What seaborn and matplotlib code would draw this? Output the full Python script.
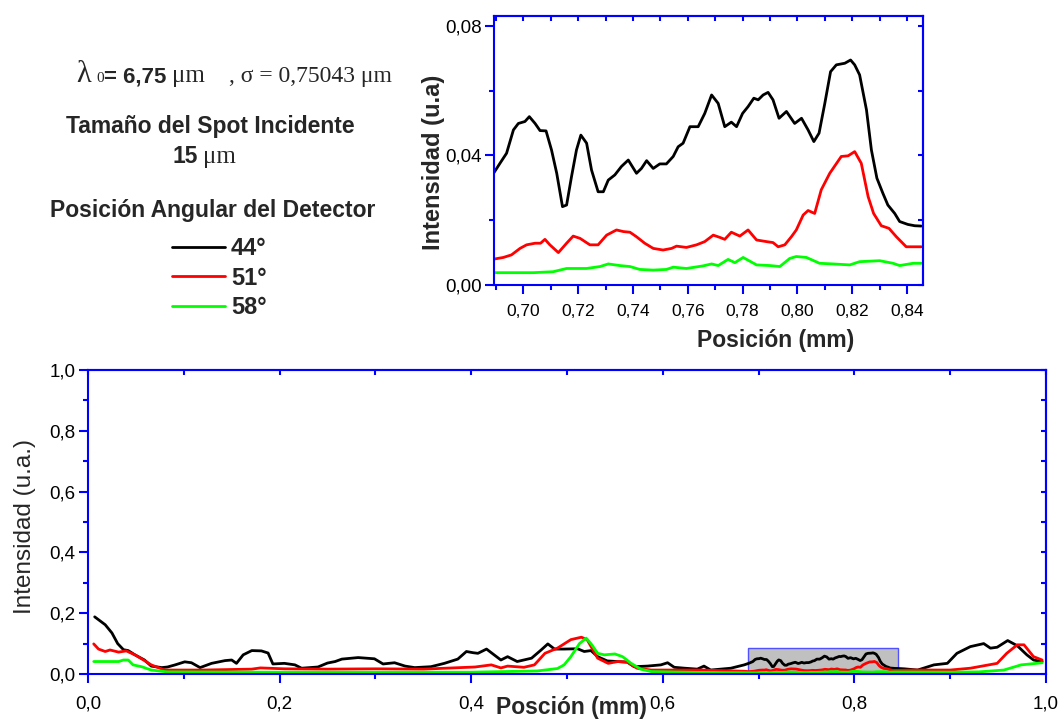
import pandas as pd
import seaborn as sns
import matplotlib.pyplot as plt
from matplotlib.patches import Rectangle
from matplotlib.lines import Line2D
from matplotlib.ticker import MultipleLocator, FuncFormatter

# --- data ----------------------------------------------------------------
angles = ['44°', '51°', '58°']
colors = ['#000000', '#FF0000', '#00FF00']

# 44 deg: full scan, part before the zoomed window
pos44_a = [0.007, 0.018, 0.025, 0.031, 0.037, 0.042, 0.049, 0.059, 0.066, 0.077, 0.083, 0.091,
           0.101, 0.108, 0.117, 0.129, 0.143, 0.150, 0.155, 0.162, 0.171, 0.181, 0.188, 0.193,
           0.205, 0.216, 0.223, 0.240, 0.250, 0.258, 0.265, 0.282, 0.299, 0.308, 0.320, 0.331,
           0.341, 0.358, 0.372, 0.386, 0.395, 0.402, 0.407, 0.416, 0.424, 0.431, 0.438, 0.448,
           0.463, 0.473, 0.480, 0.487, 0.497, 0.511, 0.518, 0.525, 0.532, 0.542, 0.553, 0.563,
           0.570, 0.584, 0.598, 0.605, 0.612, 0.623, 0.636, 0.643, 0.650, 0.671, 0.685]
int44_a = [0.188, 0.162, 0.135, 0.100, 0.080, 0.077, 0.063, 0.046, 0.026, 0.021, 0.023, 0.030,
           0.040, 0.037, 0.021, 0.035, 0.044, 0.046, 0.035, 0.063, 0.077, 0.076, 0.069, 0.033,
           0.035, 0.030, 0.019, 0.023, 0.036, 0.041, 0.049, 0.054, 0.050, 0.033, 0.037, 0.026,
           0.021, 0.024, 0.035, 0.049, 0.074, 0.070, 0.068, 0.082, 0.063, 0.046, 0.057, 0.041,
           0.052, 0.079, 0.099, 0.082, 0.082, 0.083, 0.074, 0.077, 0.057, 0.043, 0.041, 0.039,
           0.024, 0.026, 0.030, 0.037, 0.022, 0.019, 0.016, 0.026, 0.013, 0.019, 0.030]
# 44 deg: zoomed window (0.69 - 0.845 mm)
pos44_z = [0.6893, 0.6915, 0.6939, 0.6964, 0.6982, 0.7006, 0.7022, 0.7043, 0.7061, 0.7083,
           0.7103, 0.7122, 0.7143, 0.7158, 0.7176, 0.7194, 0.7210, 0.7231, 0.7249, 0.7273,
           0.7292, 0.7310, 0.7334, 0.7358, 0.7383, 0.7413, 0.7431, 0.7450, 0.7474, 0.7498,
           0.7522, 0.7547, 0.7565, 0.7583, 0.7608, 0.7638, 0.7662, 0.7687, 0.7711, 0.7735,
           0.7759, 0.7778, 0.7800, 0.7820, 0.7841, 0.7857, 0.7875, 0.7893, 0.7911, 0.7933,
           0.7960, 0.7990, 0.8015, 0.8039, 0.8060, 0.8079, 0.8100, 0.8121, 0.8142, 0.8173,
           0.8194, 0.8209, 0.8227, 0.8252, 0.8270, 0.8290, 0.8312, 0.8330, 0.8355, 0.8373,
           0.8403, 0.8428, 0.8452]
int44_z = [0.0347, 0.0376, 0.0407, 0.0479, 0.0499, 0.0505, 0.0520, 0.0499, 0.0477, 0.0476,
           0.0417, 0.0345, 0.0242, 0.0247, 0.0335, 0.0417, 0.0463, 0.0438, 0.0355, 0.0288,
           0.0288, 0.0324, 0.0340, 0.0366, 0.0386, 0.0345, 0.0360, 0.0384, 0.0360, 0.0374,
           0.0374, 0.0397, 0.0427, 0.0438, 0.0489, 0.0489, 0.0530, 0.0587, 0.0561, 0.0489,
           0.0503, 0.0489, 0.0530, 0.0551, 0.0577, 0.0572, 0.0587, 0.0595, 0.0572, 0.0515,
           0.0536, 0.0499, 0.0515, 0.0479, 0.0443, 0.0469, 0.0561, 0.0659, 0.0680, 0.0685,
           0.0695, 0.0680, 0.0649, 0.0541, 0.0417, 0.0330, 0.0283, 0.0247, 0.0221, 0.0196,
           0.0187, 0.0183, 0.0182]
# 44 deg: after the window
pos44_b = [0.852, 0.866, 0.883, 0.897, 0.907, 0.921, 0.935, 0.942, 0.949, 0.960, 0.970, 0.980,
           0.987, 0.996]
int44_b = [0.017, 0.013, 0.030, 0.035, 0.068, 0.090, 0.100, 0.085, 0.088, 0.110, 0.093, 0.063,
           0.046, 0.041]

pos51_a = [0.006, 0.011, 0.018, 0.023, 0.032, 0.040, 0.049, 0.058, 0.066, 0.080, 0.120, 0.171,
           0.180, 0.205, 0.250, 0.300, 0.350, 0.404, 0.421, 0.431, 0.438, 0.455, 0.466, 0.477,
           0.490, 0.504, 0.515, 0.521, 0.532, 0.543, 0.553, 0.563, 0.573, 0.588, 0.640, 0.685]
int51_a = [0.099, 0.082, 0.074, 0.079, 0.072, 0.076, 0.063, 0.046, 0.030, 0.013, 0.013, 0.016,
           0.020, 0.017, 0.016, 0.017, 0.016, 0.023, 0.030, 0.020, 0.026, 0.022, 0.030, 0.068,
           0.085, 0.113, 0.121, 0.113, 0.052, 0.035, 0.041, 0.039, 0.019, 0.013, 0.013, 0.009]
pos51_z = [0.6893, 0.6927, 0.6957, 0.6988, 0.7012, 0.7043, 0.7063, 0.7079, 0.7097, 0.7128,
           0.7158, 0.7182, 0.7207, 0.7243, 0.7273, 0.7304, 0.7340, 0.7365, 0.7389, 0.7413,
           0.7443, 0.7474, 0.7510, 0.7541, 0.7559, 0.7595, 0.7632, 0.7662, 0.7693, 0.7717,
           0.7735, 0.7759, 0.7790, 0.7820, 0.7851, 0.7887, 0.7911, 0.7930, 0.7954, 0.7978,
           0.7996, 0.8021, 0.8039, 0.8063, 0.8087, 0.8118, 0.8160, 0.8185, 0.8209, 0.8233,
           0.8258, 0.8278, 0.8306, 0.8334, 0.8361, 0.8397, 0.8452]
int51_z = [0.0080, 0.0085, 0.0093, 0.0113, 0.0124, 0.0129, 0.0129, 0.0141, 0.0124, 0.0100,
           0.0129, 0.0151, 0.0144, 0.0124, 0.0124, 0.0154, 0.0170, 0.0165, 0.0163, 0.0149,
           0.0129, 0.0113, 0.0108, 0.0113, 0.0120, 0.0116, 0.0124, 0.0134, 0.0154, 0.0147,
           0.0141, 0.0163, 0.0151, 0.0170, 0.0139, 0.0134, 0.0131, 0.0118, 0.0124, 0.0149,
           0.0170, 0.0216, 0.0230, 0.0221, 0.0294, 0.0345, 0.0397, 0.0399, 0.0412, 0.0376,
           0.0273, 0.0221, 0.0183, 0.0175, 0.0149, 0.0118, 0.0118]
pos51_b = [0.860, 0.900, 0.921, 0.949, 0.959, 0.970, 0.977, 0.987, 0.996]
int51_b = [0.013, 0.013, 0.019, 0.035, 0.068, 0.096, 0.096, 0.057, 0.046]

pos58_a = [0.006, 0.032, 0.037, 0.042, 0.047, 0.056, 0.066, 0.083, 0.200, 0.400, 0.469, 0.490,
           0.497, 0.504, 0.513, 0.520, 0.525, 0.532, 0.539, 0.550, 0.558, 0.567, 0.577, 0.588,
           0.640, 0.685]
int58_a = [0.041, 0.041, 0.046, 0.046, 0.030, 0.024, 0.013, 0.007, 0.006, 0.006, 0.010, 0.018,
           0.030, 0.057, 0.100, 0.118, 0.100, 0.068, 0.063, 0.066, 0.057, 0.035, 0.016, 0.008,
           0.005, 0.004]
pos58_z = [0.6893, 0.7036, 0.7109, 0.7158, 0.7231, 0.7280, 0.7310, 0.7352, 0.7389, 0.7425,
           0.7474, 0.7522, 0.7547, 0.7595, 0.7656, 0.7687, 0.7711, 0.7747, 0.7772, 0.7802,
           0.7851, 0.7900, 0.7936, 0.7972, 0.7996, 0.8033, 0.8081, 0.8130, 0.8191, 0.8227,
           0.8300, 0.8349, 0.8373, 0.8422, 0.8452]
int58_z = [0.0038, 0.0038, 0.0041, 0.0051, 0.0051, 0.0057, 0.0065, 0.0060, 0.0057, 0.0048,
           0.0046, 0.0048, 0.0055, 0.0051, 0.0059, 0.0065, 0.0060, 0.0079, 0.0069, 0.0085,
           0.0062, 0.0060, 0.0057, 0.0082, 0.0088, 0.0085, 0.0067, 0.0065, 0.0062, 0.0072,
           0.0075, 0.0067, 0.0060, 0.0067, 0.0067]
pos58_b = [0.900, 0.930, 0.956, 0.974, 0.996]
int58_b = [0.006, 0.007, 0.013, 0.030, 0.037]

# zoom window marked on the full scan
zoom_x = [0.689, 0.845]
zoom_top = 0.086

# --- frames ----------------------------------------------------------------
full = pd.concat([
    pd.DataFrame({'pos': pos44_a + pos44_z + pos44_b, 'int': int44_a + int44_z + int44_b, 'ang': '44°'}),
    pd.DataFrame({'pos': pos51_a + pos51_z + pos51_b, 'int': int51_a + int51_z + int51_b, 'ang': '51°'}),
    pd.DataFrame({'pos': pos58_a + pos58_z + pos58_b, 'int': int58_a + int58_z + int58_b, 'ang': '58°'}),
], ignore_index=True)
zoom = pd.concat([
    pd.DataFrame({'pos': pos44_z, 'int': int44_z, 'ang': '44°'}),
    pd.DataFrame({'pos': pos51_z, 'int': int51_z, 'ang': '51°'}),
    pd.DataFrame({'pos': pos58_z, 'int': int58_z, 'ang': '58°'}),
], ignore_index=True)

pal = dict(zip(angles, colors))

sns.set_theme(style="white")
plt.rcParams['font.family'] = ['Liberation Sans', 'DejaVu Sans']

BLUE = '#0000FF'
fig = plt.figure(figsize=(10.6, 7.2), dpi=100)
ax = fig.add_axes([0.0830, 0.0639, 0.9038, 0.4222])
axin = fig.add_axes([0.4660, 0.6042, 0.4047, 0.3736])


def style_axes(a, xmaj, xmin, ymaj, ymin, xfmt, yfmt, xsize, ysize, xpad):
    for s in a.spines.values():
        s.set_color(BLUE)
        s.set_linewidth(1.5)
    a.xaxis.set_major_locator(MultipleLocator(xmaj))
    a.xaxis.set_minor_locator(MultipleLocator(xmin))
    a.yaxis.set_major_locator(MultipleLocator(ymaj))
    a.yaxis.set_minor_locator(MultipleLocator(ymin))
    a.xaxis.set_major_formatter(FuncFormatter(lambda v, p: xfmt.format(v).replace('.', ',')))
    a.yaxis.set_major_formatter(FuncFormatter(lambda v, p: yfmt.format(v).replace('.', ',')))
    a.tick_params(which='both', direction='out', color=BLUE, width=1.5,
                  labelcolor='black', left=True, bottom=True)
    a.tick_params(which='major', length=6.5)
    a.tick_params(which='minor', length=3.5)
    a.tick_params(axis='x', labelsize=xsize, pad=xpad)
    a.tick_params(axis='y', labelsize=ysize, pad=2.5)
    # inward ticks on top and right
    top = a.secondary_xaxis('top')
    top.xaxis.set_major_locator(MultipleLocator(xmin))
    top.tick_params(direction='in', length=3.5, width=1.5, color=BLUE, labeltop=False)
    top.spines['top'].set_color(BLUE)
    top.spines['top'].set_linewidth(1.5)
    right = a.secondary_yaxis('right')
    right.yaxis.set_major_locator(MultipleLocator(ymin))
    right.tick_params(direction='in', length=3.5, width=1.5, color=BLUE, labelright=False)
    right.spines['right'].set_color(BLUE)
    right.spines['right'].set_linewidth(1.5)


# full scan
ax.add_patch(Rectangle((zoom_x[0], 0), zoom_x[1] - zoom_x[0], zoom_top,
                       facecolor='#C0C0C0', edgecolor='#5050FF', lw=1, zorder=1))
sns.lineplot(data=full, x='pos', y='int', hue='ang', palette=pal, estimator=None,
             sort=False, lw=2, legend=False, ax=ax, zorder=2)
ax.set_xlim(0, 1.0)
ax.set_ylim(0, 1.0)
style_axes(ax, 0.2, 0.1, 0.2, 0.1, '{:.1f}', '{:.1f}', 13.5, 13.5, 9)
ax.set_xlabel('Posción (mm)', fontsize=16.5, fontweight='bold')
ax.set_ylabel('Intensidad (u.a.)', fontsize=17.5)
ax.xaxis.set_label_coords(0.505, -0.074)
ax.yaxis.set_label_coords(-0.054, 0.485)

# zoomed window
sns.lineplot(data=zoom, x='pos', y='int', hue='ang', palette=pal, estimator=None,
             sort=False, lw=2, legend=False, ax=axin)
axin.set_xlim(0.6893, 0.8458)
axin.set_ylim(0, 0.0831)
style_axes(axin, 0.02, 0.01, 0.04, 0.02, '{:.2f}', '{:.2f}', 12.5, 13.5, 7)
axin.set_xlabel('Posición (mm)', fontsize=16.5, fontweight='bold')
axin.set_ylabel('Intensidad (u.a)', fontsize=17, fontweight='bold')
axin.xaxis.set_label_coords(0.657, -0.165)
axin.yaxis.set_label_coords(-0.115, 0.454)

# annotations on the left
W, H = 1060, 720


def ftext(px, py, s, **kw):
    fig.text(px / W, 1 - py / H, s, va='baseline', **kw)


ftext(76, 82, 'λ', fontsize=22, family='Liberation Serif')
ftext(96, 82, '0', fontsize=11, family='Liberation Serif')
ftext(104, 82, '= 6,75', fontsize=16, fontweight='bold')
ftext(172, 82, 'μm', fontsize=18, family='Liberation Serif')
ftext(229, 82, ', σ = 0,75043 μm', fontsize=17, family='Liberation Serif')
ftext(210, 133, 'Tamaño del Spot Incidente', fontsize=16.5, fontweight='bold', ha='center')
ftext(172, 163, '15', fontsize=16.5, fontweight='bold')
ftext(203, 163, 'μm', fontsize=18, family='Liberation Serif')
ftext(213, 217, 'Posición Angular del Detector', fontsize=16.5, fontweight='bold', ha='center')

handles = [Line2D([], [], color=c, lw=2) for c in colors]
fig.legend(handles, angles, loc='upper left', bbox_to_anchor=(172 / W, 1 - 237 / H),
           frameon=False, prop={'weight': 'bold', 'size': 17},
           handlelength=2.25, handletextpad=0.25, labelspacing=0.28,
           borderpad=0, borderaxespad=0)

fig.savefig('out.png', dpi=100)
